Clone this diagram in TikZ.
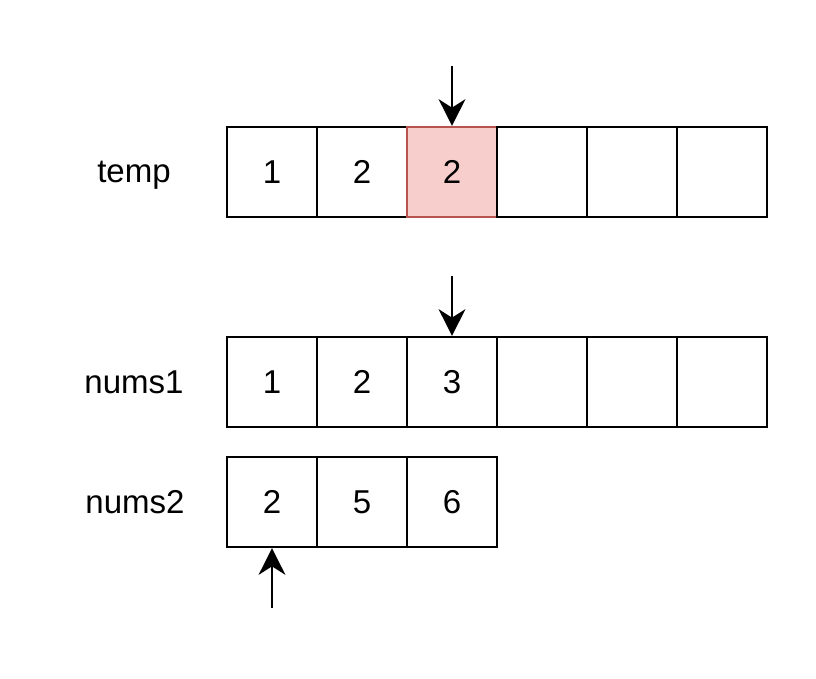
\documentclass[tikz,border=0pt]{standalone}
\usepackage{fontspec}
\setmainfont{Liberation Sans}
\usepackage{tikz}
\usetikzlibrary{arrows.meta,positioning}
\definecolor{hotfill}{HTML}{F8CECC}
\definecolor{hotline}{HTML}{B85450}
\tikzset{
  cellbox/.style={draw=black,line width=1.5pt,minimum width=2.25cm,minimum height=2.25cm,inner sep=0pt,font=\fontsize{23.5}{28}\selectfont},
  hotcell/.style={cellbox,draw=hotline,fill=hotfill},
  rowlabel/.style={align=center,inner sep=2pt,text depth=0pt,font=\fontsize{23.5}{28}\selectfont},
  pointer/.style={-{Stealth[length=19pt,width=19pt,inset=6pt]},line width=1.5pt},
}

\begin{document}
\begin{tikzpicture}[x=0.025cm,y=-0.025cm]
    \useasboundingbox (0,0) rectangle (816,678);
    \node[rowlabel] (ltemp) at (134,172) {temp};
    \node[rowlabel] (lnums1) at (134,382) {nums1};
    \node[rowlabel] (lnums2) at (135,502) {nums2};
    \foreach \k/\v/\s in {1/1/cellbox,2/2/cellbox,3/2/hotcell,4//cellbox,5//cellbox,6//cellbox}{
      \node[\s] (t\k) at ({272+90*(\k-1)},172) {\v};
    }
    \foreach \k/\v in {1/1,2/2,3/3,4/,5/,6/}{
      \node[cellbox] (a\k) at ({272+90*(\k-1)},382) {\v};
    }
    \foreach \k/\v in {1/2,2/5,3/6}{
      \node[cellbox] (b\k) at ({272+90*(\k-1)},502) {\v};
    }
    \coordinate[above=1.5cm of t3.north] (tp);
    \coordinate[above=1.5cm of a3.north] (ap);
    \coordinate[below=1.5cm of b1.south] (bp);
    \draw[pointer] (tp)--(t3.north);
    \draw[pointer] (ap)--(a3.north);
    \draw[pointer] (bp)--(b1.south);
  \end{tikzpicture}
\end{document}
